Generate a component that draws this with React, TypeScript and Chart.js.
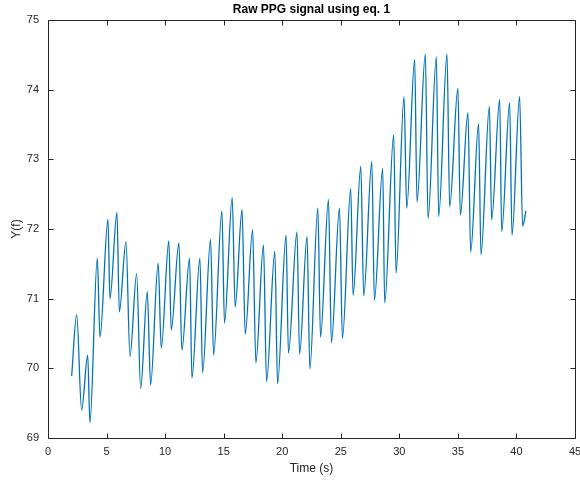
import React, { useEffect, useRef } from "react";
import { Chart, registerables } from "chart.js";

Chart.register(...registerables);

// Signal samples (time in seconds, amplitude)
const timeS: number[] = [
  2.02, 2.45, 2.87, 3.39, 3.58, 4.21, 4.44, 5.12, 5.29, 5.89,
  6.09, 6.66, 7.0, 7.57, 7.91, 8.48, 8.76, 9.41, 9.67, 10.32,
  10.52, 11.18, 11.43, 12.09, 12.29, 12.97, 13.2, 13.88, 14.14, 14.85,
  15.07, 15.73, 15.98, 16.57, 16.84, 17.47, 17.75, 18.4, 18.66, 19.37,
  19.6, 20.33, 20.53, 21.26, 21.48, 22.12, 22.36, 23.04, 23.27, 23.95,
  24.2, 24.89, 25.14, 25.85, 26.05, 26.71, 26.96, 27.65, 27.87, 28.58,
  28.75, 29.52, 29.72, 30.4, 30.63, 31.31, 31.51, 32.22, 32.45, 33.16,
  33.36, 34.07, 34.3, 35.0, 35.21, 35.86, 36.09, 36.77, 36.97, 37.69,
  37.88, 38.57, 38.74, 39.42, 39.62, 40.27, 40.53, 40.81,
];
const ppgY: number[] = [
  69.89, 70.77, 69.4, 70.19, 69.22, 71.58, 70.45, 72.14, 71.0, 72.24,
  70.81, 71.82, 70.17, 71.36, 69.71, 71.1, 69.76, 71.51, 70.29, 71.83,
  70.55, 71.8, 70.26, 71.58, 69.86, 71.58, 69.94, 71.85, 70.19, 72.26,
  70.65, 72.45, 70.88, 72.28, 70.49, 71.99, 70.08, 71.77, 69.81, 71.68,
  69.78, 71.91, 70.22, 71.96, 70.2, 71.89, 69.99, 72.3, 70.45, 72.42,
  70.37, 72.3, 70.43, 72.58, 71.05, 72.9, 71.04, 72.97, 70.98, 72.87,
  70.94, 73.35, 71.37, 73.9, 72.3, 74.43, 72.39, 74.51, 72.15, 74.47,
  72.18, 74.51, 72.32, 74.02, 72.2, 73.67, 71.67, 73.51, 71.63, 73.76,
  72.13, 73.86, 71.96, 73.81, 71.91, 73.9, 72.04, 72.26,
];

const xTicks: number[] = [0, 5, 10, 15, 20, 25, 30, 35, 40, 45];
const yTicks: number[] = [69, 70, 71, 72, 73, 74, 75];
const titleText = "Raw PPG signal using eq. 1";
const xLabel = "Time (s)";
const yLabel = "Y(f)";

const FONT = "'Liberation Sans', Arial, Helvetica, sans-serif";

export default function App() {
  const ref = useRef<HTMLCanvasElement | null>(null);

  useEffect(() => {
    if (!ref.current) return;
    const axesPlugin = {
      id: "matlabAxes",
      afterDraw(chart: any) {
        const { ctx, chartArea: a, scales } = chart;
        const xs = scales.x;
        const ys = scales.y;
        ctx.save();
        ctx.strokeStyle = "#262626";
        ctx.lineWidth = 1;
        const L = Math.round(a.left) + 0.5;
        const R = Math.round(a.right) + 0.5;
        const T = Math.round(a.top) + 0.5;
        const B = Math.round(a.bottom) + 0.5;
        ctx.beginPath();
        ctx.rect(L, T, R - L, B - T);
        ctx.stroke();
        const tl = 5;
        ctx.beginPath();
        xTicks.forEach((v) => {
          const px = Math.round(xs.getPixelForValue(v)) + 0.5;
          ctx.moveTo(px, B);
          ctx.lineTo(px, B - tl);
          ctx.moveTo(px, T);
          ctx.lineTo(px, T + tl);
        });
        yTicks.forEach((v) => {
          const py = Math.round(ys.getPixelForValue(v)) + 0.5;
          ctx.moveTo(L, py);
          ctx.lineTo(L + tl, py);
          ctx.moveTo(R, py);
          ctx.lineTo(R - tl, py);
        });
        ctx.stroke();

        ctx.fillStyle = "#262626";
        ctx.font = `11px ${FONT}`;
        ctx.textAlign = "center";
        ctx.textBaseline = "middle";
        xTicks.forEach((v) => {
          ctx.fillText(String(v), xs.getPixelForValue(v), a.bottom + 14);
        });
        ctx.textAlign = "right";
        yTicks.forEach((v) => {
          ctx.fillText(String(v), a.left - 9, ys.getPixelForValue(v));
        });

        ctx.font = `12px ${FONT}`;
        ctx.textAlign = "center";
        ctx.fillText(xLabel, (a.left + a.right) / 2, a.bottom + 31);
        ctx.save();
        ctx.translate(17, (a.top + a.bottom) / 2);
        ctx.rotate(-Math.PI / 2);
        ctx.fillText(yLabel, 0, 0);
        ctx.restore();

        ctx.fillStyle = "#000000";
        ctx.font = `bold 12px ${FONT}`;
        ctx.fillText(titleText, (a.left + a.right) / 2, a.top - 10);
        ctx.restore();
      },
    };

    const chart = new Chart(ref.current, {
      type: "line",
      data: {
        datasets: [
          {
            data: timeS.map((t, i) => ({ x: t, y: ppgY[i] })),
            borderColor: "rgb(0,114,189)",
            borderWidth: 1.3,
            pointRadius: 0,
            fill: false,
            cubicInterpolationMode: "monotone",
          },
        ],
      },
      options: {
        responsive: false,
        animation: false,
        layout: { padding: { left: 48, right: 5, top: 20, bottom: 46 } },
        plugins: {
          legend: { display: false },
          title: { display: false },
          tooltip: { enabled: false },
        },
        scales: {
          x: { type: "linear", min: 0, max: 45, display: false },
          y: { type: "linear", min: 69, max: 75, display: false },
        },
      },
      plugins: [axesPlugin],
    });
    return () => chart.destroy();
  }, []);

  return (
    <div style={{ position: "fixed", left: 0, top: 0, width: 580, height: 484, background: "#fff" }}>
      <canvas ref={ref} width={580} height={484} style={{ width: 580, height: 484 }} />
    </div>
  );
}
